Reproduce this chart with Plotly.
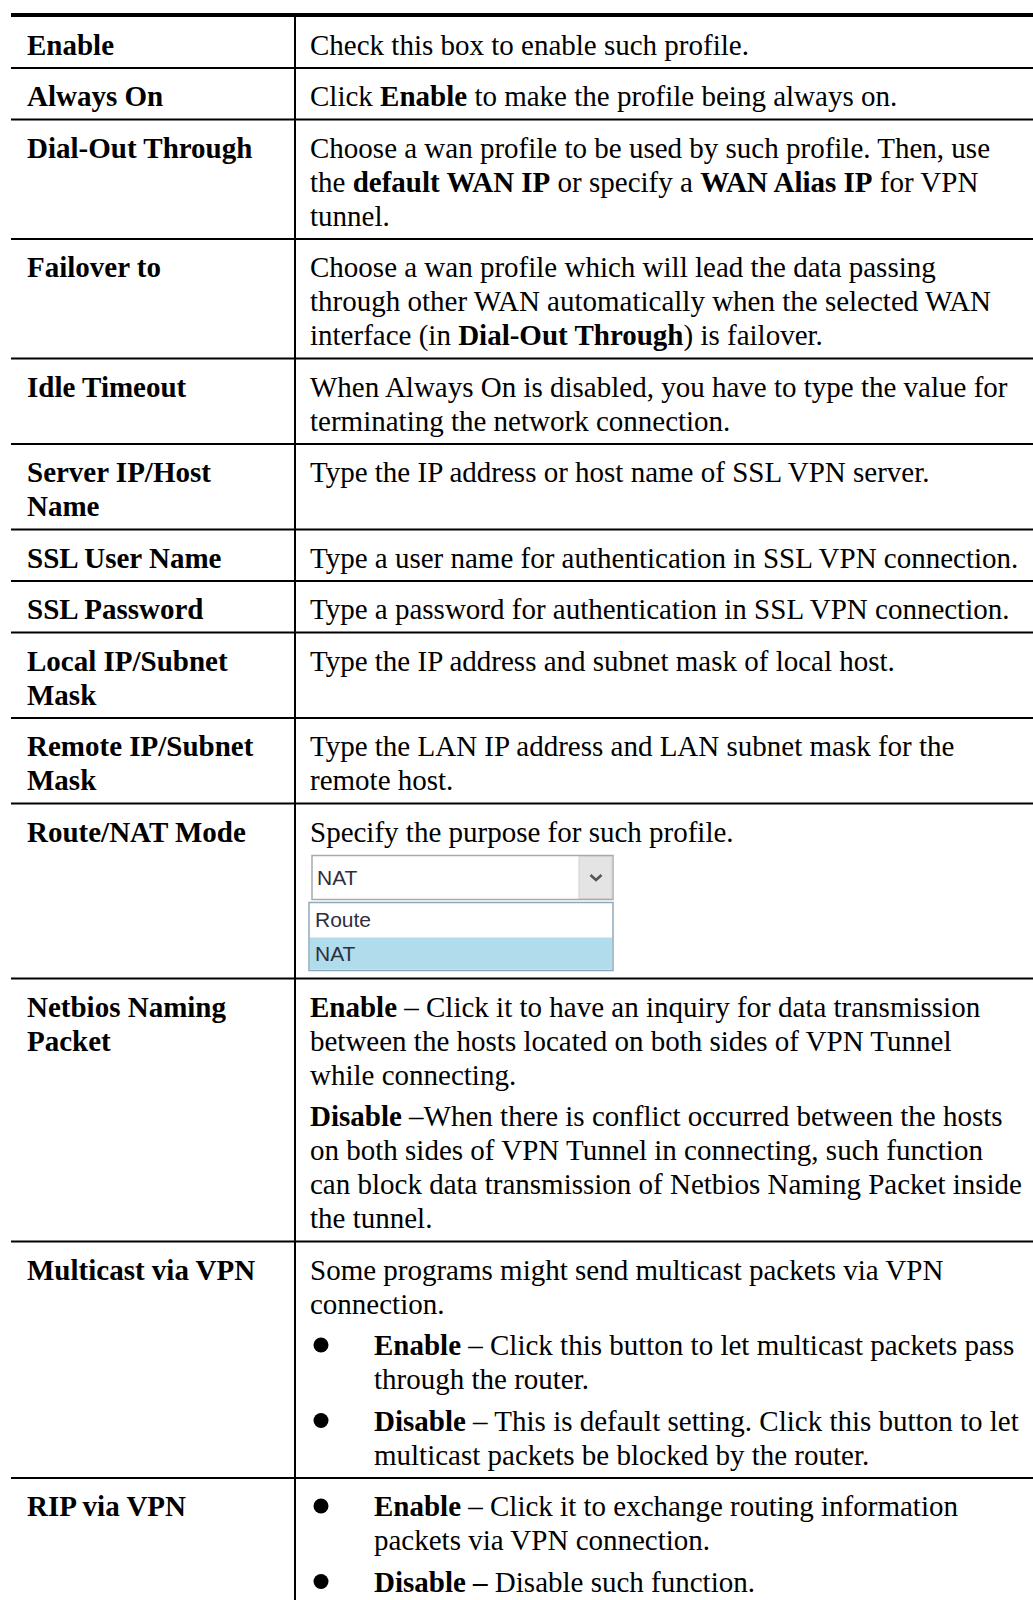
import plotly.graph_objects as go

# ---------------- content ----------------
terms = [
    ["Enable"],
    ["Always On"],
    ["Dial-Out Through"],
    ["Failover to"],
    ["Idle Timeout"],
    ["Server IP/Host", "Name"],
    ["SSL User Name"],
    ["SSL Password"],
    ["Local IP/Subnet", "Mask"],
    ["Remote IP/Subnet", "Mask"],
    ["Route/NAT Mode"],
    ["Netbios Naming", "Packet"],
    ["Multicast via VPN"],
    ["RIP via VPN"],
]

# each description is a list of paragraphs: (kind, lines)
descriptions = [
    [("text", ["Check this box to enable such profile."])],
    [("text", ["Click <b>Enable</b> to make the profile being always on."])],
    [("text", ["Choose a wan profile to be used by such profile. Then, use",
               "the <b>default WAN IP</b> or specify a <b>WAN Alias IP</b> for VPN",
               "tunnel."])],
    [("text", ["Choose a wan profile which will lead the data passing",
               "through other WAN automatically when the selected WAN",
               "interface (in <b>Dial-Out Through</b>) is failover."])],
    [("text", ["When Always On is disabled, you have to type the value for",
               "terminating the network connection."])],
    [("text", ["Type the IP address or host name of SSL VPN server."])],
    [("text", ["Type a user name for authentication in SSL VPN connection."])],
    [("text", ["Type a password for authentication in SSL VPN connection."])],
    [("text", ["Type the IP address and subnet mask of local host."])],
    [("text", ["Type the LAN IP address and LAN subnet mask for the",
               "remote host."])],
    [("text", ["Specify the purpose for such profile."]),
     ("dropdown", [])],
    [("text", ["<b>Enable</b> \u2013 Click it to have an inquiry for data transmission",
               "between the hosts located on both sides of VPN Tunnel",
               "while connecting."]),
     ("text", ["<b>Disable</b> \u2013When there is conflict occurred between the hosts",
               "on both sides of VPN Tunnel in connecting, such function",
               "can block data transmission of Netbios Naming Packet inside",
               "the tunnel."])],
    [("text", ["Some programs might send multicast packets via VPN",
               "connection."]),
     ("bullet", ["<b>Enable</b> \u2013 Click this button to let multicast packets pass",
                 "through the router."]),
     ("bullet", ["<b>Disable</b> \u2013 This is default setting. Click this button to let",
                 "multicast packets be blocked by the router."])],
    [("bullet", ["<b>Enable</b> \u2013 Click it to exchange routing information",
                 "packets via VPN connection."]),
     ("bullet", ["<b>Disable \u2013</b> Disable such function."])],
]

dropdown_selected = "NAT"
dropdown_options = ["Route", "NAT"]
dropdown_highlight = "NAT"

# ---------------- style / geometry ----------------
W, H = 1033, 1600
SERIF = "Liberation Serif, Times New Roman, serif"
SANS = "Liberation Sans, Arial, sans-serif"
FONT = 29
LINE_H = 34
TOP_PAD = 28
BOT_PAD = 23.5
PARA_GAP = 7.5
TABLE_TOP = 15
FIRST_ROW_TOP = 16.5
X_LEFT = 11
X_DIV = 295
X_TERM = 26
X_DESC = 309
X_BULLET = 321
X_BULLET_TEXT = 373
BULLET_D = 15

DD_W = 304
DD_GAP_TOP = 24
DD_BOX_H = 44
DD_LIST_GAP = 3
DD_ITEM_H = 34
DD_BOTTOM = 8
DD_BTN_W = 34

shapes = []
annotations = []
bullet_x, bullet_y = [], []


def add_text(x, y, txt, bold=False, font=SERIF, size=FONT, color="black"):
    annotations.append(dict(
        x=x, y=y, xref="x", yref="y", text=("<b>%s</b>" % txt) if bold else txt,
        showarrow=False, xanchor="left", yanchor="middle",
        font=dict(family=font, size=size, color=color), borderpad=0,
    ))


def hline(y, width=2):
    shapes.append(dict(type="line", xref="x", yref="y", x0=X_LEFT, x1=W,
                       y0=y, y1=y, line=dict(color="black", width=width)))


def draw_dropdown(top):
    x0 = X_DESC + 3
    x1 = X_DESC + DD_W
    # select box
    shapes.append(dict(type="rect", xref="x", yref="y", x0=x0, x1=x1, y0=top, y1=top + DD_BOX_H,
                       fillcolor="white", line=dict(color="#a9a9a9", width=1.5), layer="below"))
    shapes.append(dict(type="rect", xref="x", yref="y", x0=x1 - DD_BTN_W, x1=x1 - 1,
                       y0=top + 1, y1=top + DD_BOX_H - 1,
                       fillcolor="#e4e4e4", line=dict(color="#cfcfcf", width=1), layer="below"))
    cx = x1 - DD_BTN_W / 2
    cy = top + DD_BOX_H / 2
    shapes.append(dict(type="path", xref="x", yref="y",
                       path="M %f,%f L %f,%f L %f,%f" % (cx - 5.5, cy - 2.5, cx, cy + 2.5, cx + 5.5, cy - 2.5),
                       line=dict(color="#555555", width=2.5)))
    add_text(x0 + 4, cy, dropdown_selected, font=SANS, size=21, color="#2e2e3e")
    # list
    ltop = top + DD_BOX_H + DD_LIST_GAP
    lbot = ltop + DD_ITEM_H * len(dropdown_options)
    shapes.append(dict(type="rect", xref="x", yref="y", x0=X_DESC, x1=x1, y0=ltop, y1=lbot,
                       fillcolor="white", line=dict(color="#8ea8bb", width=1.5), layer="below"))
    for k, opt in enumerate(dropdown_options):
        it = ltop + k * DD_ITEM_H
        if opt == dropdown_highlight:
            shapes.append(dict(type="rect", xref="x", yref="y", x0=X_DESC + 1, x1=x1 - 1,
                               y0=it + 1, y1=it + DD_ITEM_H - 1,
                               fillcolor="#b0dceb", line=dict(width=0), layer="below"))
        add_text(X_DESC + 5, it + DD_ITEM_H / 2, opt, font=SANS, size=21, color="#2e2e3e")
    return lbot


# top thick rule
hline(TABLE_TOP, width=4)

row_top = FIRST_ROW_TOP
for i, (term, desc) in enumerate(zip(terms, descriptions)):
    # term lines
    for j, t in enumerate(term):
        add_text(X_TERM, row_top + TOP_PAD + j * LINE_H, t, bold=True)
    term_end = row_top + TOP_PAD + (len(term) - 1) * LINE_H
    # description
    cursor = row_top + TOP_PAD
    widget_bottom = None
    for p, (kind, lines) in enumerate(desc):
        if kind == "dropdown":
            widget_bottom = draw_dropdown(cursor + DD_GAP_TOP) + DD_BOTTOM
            continue
        if p > 0:
            cursor += LINE_H + PARA_GAP
        xt = X_DESC
        if kind == "bullet":
            bullet_x.append(X_BULLET)
            bullet_y.append(cursor)
            xt = X_BULLET_TEXT
        for j, ln in enumerate(lines):
            if j > 0:
                cursor += LINE_H
            add_text(xt, cursor, ln)
    bottom = max(cursor, term_end) + BOT_PAD
    if widget_bottom is not None:
        bottom = max(bottom, widget_bottom)
    if i < len(terms) - 1:
        hline(bottom)
    row_top = bottom

# vertical divider
shapes.append(dict(type="line", xref="x", yref="y", x0=X_DIV, x1=X_DIV, y0=TABLE_TOP, y1=H,
                   line=dict(color="black", width=2)))

fig = go.Figure()
fig.add_trace(go.Scatter(x=bullet_x, y=bullet_y, mode="markers",
                         marker=dict(size=BULLET_D, color="black", line=dict(width=0)),
                         hoverinfo="skip", showlegend=False))
fig.update_layout(
    width=W, height=H,
    margin=dict(l=0, r=0, t=0, b=0, pad=0),
    paper_bgcolor="white", plot_bgcolor="white",
    xaxis=dict(range=[0, W], visible=False, fixedrange=True),
    yaxis=dict(range=[H, 0], visible=False, fixedrange=True),
    shapes=shapes, annotations=annotations,
    showlegend=False, hovermode=False,
)
fig.write_html("out.html", config={"displayModeBar": False, "staticPlot": True},
               post_script="document.body.style.margin='0';")
